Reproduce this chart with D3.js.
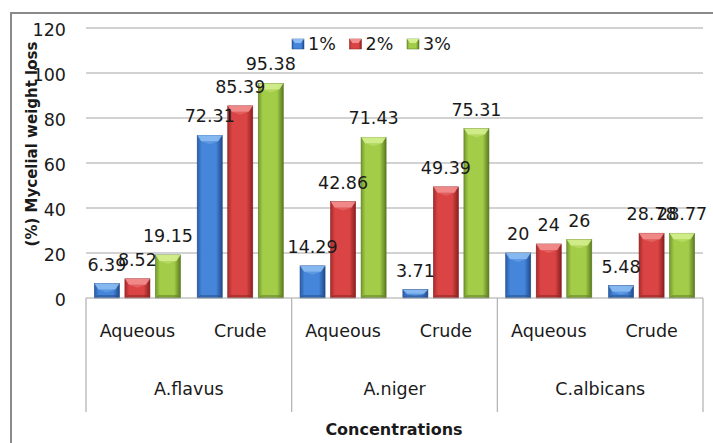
<!DOCTYPE html>
<html><head><meta charset="utf-8">
<script src="https://cdn.jsdelivr.net/npm/d3@7/dist/d3.min.js"></script>
<style>body{margin:0;background:#fff}svg{display:block}text{font-family:"DejaVu Sans",sans-serif;fill:#1a1a1a}</style>
</head><body><svg id="c" width="713" height="443"></svg>
<script>
const organisms = ["A.flavus", "A.niger", "C.albicans"];
const extracts = ["Aqueous", "Crude"];
const seriesNames = ["1%", "2%", "3%"];
const s1 = [6.39, 72.31, 14.29, 3.71, 20, 5.48];
const s2 = [8.52, 85.39, 42.86, 49.39, 24, 28.78];
const s3 = [19.15, 95.38, 71.43, 75.31, 26, 28.77];
const yTicks = [0, 20, 40, 60, 80, 100, 120];
const colors = [
  {mid:"#4585da", edge:"#2a5ca8", top:"#8cbcf2", dark:"#1f4a8a"},
  {mid:"#db4444", edge:"#a82a2a", top:"#f29090", dark:"#8a1f1f"},
  {mid:"#a3cc48", edge:"#739a2c", top:"#d4ef90", dark:"#5a7a1f"}
];

const svg = d3.select("#c");
const L = 86, R = 703, T = 28, B = 298;
const cats = [];
organisms.forEach(o => extracts.forEach(e => cats.push(o + "|" + e)));
const seriesVals = [s1, s2, s3];

const x0 = d3.scaleBand().domain(cats).range([L, R]).paddingInner(0.163).paddingOuter(0.0815);
const x1 = d3.scaleBand().domain(seriesNames).range([0, x0.bandwidth()]).paddingInner(0.18).paddingOuter(0);
const xg = d3.scaleBand().domain(organisms).range([L, R]);
const y = d3.scaleLinear().domain([0, 120]).range([B, T]);

svg.append("path").attr("d", `M11,443 L11,13 L713,13`).attr("fill","none").attr("stroke","#8a8a8a").attr("stroke-width",2);

const defs = svg.append("defs");
colors.forEach((c, i) => {
  const g = defs.append("linearGradient").attr("id","g"+i).attr("x1","0").attr("x2","1").attr("y1","0").attr("y2","0");
  g.append("stop").attr("offset","0").attr("stop-color",c.edge);
  g.append("stop").attr("offset","0.18").attr("stop-color",c.mid);
  g.append("stop").attr("offset","0.75").attr("stop-color",c.mid);
  g.append("stop").attr("offset","1").attr("stop-color",c.dark);
});

svg.append("g").selectAll("line").data(yTicks.slice(1)).join("line")
  .attr("x1", L).attr("x2", R).attr("y1", d => y(d)).attr("y2", d => y(d))
  .attr("stroke", "#a6a6a6").attr("stroke-width", 1.2);

svg.append("g").selectAll("text").data(yTicks).join("text")
  .attr("x", 66).attr("y", d => y(d) + 8).attr("text-anchor","end")
  .attr("font-size", 17.5).text(d => d);

const barG = svg.append("g");
seriesVals.forEach((vals, si) => {
  const c = colors[si];
  vals.forEach((v, ci) => {
    const bx = x0(cats[ci]) + x1(seriesNames[si]);
    const bw = x1.bandwidth();
    const by = y(v), bh = B - y(v);
    const g = barG.append("g");
    g.append("rect").attr("x", bx).attr("y", by).attr("width", bw).attr("height", bh)
      .attr("fill", `url(#g${si})`).attr("stroke", c.dark).attr("stroke-width", 0.6);
    const cap = Math.min(6, bh / 2);
    g.append("path").attr("d", `M${bx},${by} L${bx+bw},${by} L${bx+bw-4},${by+cap} L${bx+4},${by+cap} Z`)
      .attr("fill", c.top).attr("opacity", 0.9);
    g.append("path").attr("d", `M${bx+4},${by+cap} L${bx+bw/2},${by+cap+Math.min(3,bh/3)} L${bx+bw-4},${by+cap} Z`)
      .attr("fill", c.top).attr("opacity", 0.35);
    g.append("path").attr("d", `M${bx},${B} L${bx+bw},${B} L${bx+bw-3},${B-Math.min(3,bh/3)} L${bx+3},${B-Math.min(3,bh/3)} Z`)
      .attr("fill", c.dark).attr("opacity", 0.5);
  });
});

seriesVals.forEach((vals, si) => {
  svg.append("g").selectAll("text").data(vals).join("text")
    .attr("x", (d, ci) => x0(cats[ci]) + x1(seriesNames[si]) + x1.bandwidth()/2)
    .attr("y", d => y(d) - 13).attr("text-anchor","middle").attr("font-size", 17.5)
    .text(d => d);
});

svg.append("line").attr("x1", L).attr("x2", R).attr("y1", B).attr("y2", B).attr("stroke","#a6a6a6").attr("stroke-width",1.2);
const seps = [L].concat(organisms.map(o => xg(o) + xg.bandwidth()));
svg.append("g").selectAll("line").data(seps).join("line")
  .attr("x1", d => d).attr("x2", d => d).attr("y1", B).attr("y2", 412)
  .attr("stroke","#b0b0b0").attr("stroke-width",1.2);

svg.append("g").selectAll("text").data(cats).join("text")
  .attr("x", d => x0(d) + x0.bandwidth()/2).attr("y", 337).attr("text-anchor","middle")
  .attr("font-size", 17.5).text(d => d.split("|")[1]);
svg.append("g").selectAll("text").data(organisms).join("text")
  .attr("x", d => xg(d) + xg.bandwidth()/2).attr("y", 395).attr("text-anchor","middle")
  .attr("font-size", 17.5).text(d => d);

svg.append("text").attr("x", 394).attr("y", 435).attr("text-anchor","middle")
  .attr("font-size", 16).attr("font-weight","bold").text("Concentrations");
svg.append("text").attr("transform","translate(37,144) rotate(-90)").attr("text-anchor","middle")
  .attr("font-size", 15).attr("font-weight","bold").text("(%) Mycelial weight loss");

const leg = svg.append("g").attr("transform","translate(292,39)");
seriesNames.forEach((n, i) => {
  const g = leg.append("g").attr("transform", `translate(${i*57.5},0)`);
  g.append("rect").attr("width", 12).attr("height", 10).attr("fill", `url(#g${i})`).attr("stroke", colors[i].dark).attr("stroke-width",0.5);
  g.append("path").attr("d","M0,0 L12,0 L9,4 L3,4 Z").attr("fill", colors[i].top);
  g.append("text").attr("x", 16).attr("y", 11).attr("font-size", 17.5).text(n);
});
</script></body></html>
